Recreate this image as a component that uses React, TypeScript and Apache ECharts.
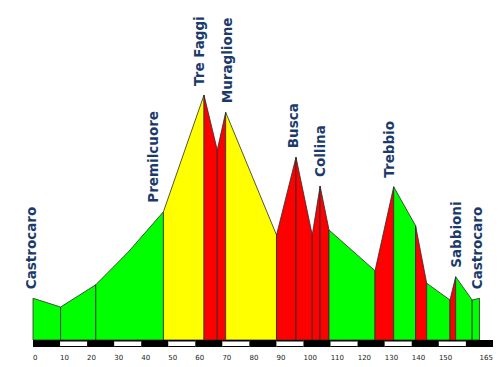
import React, { useEffect, useRef } from "react";
import * as echarts from "echarts";

// Route profile: distance (km) and elevation (m)
const kmPoints = [0, 10.2, 23.2, 35.2, 48.2, 63.2, 68.1, 71.2, 90.0, 97.2, 103.2, 106.1, 109.4, 126.4, 133.3, 141.4, 145.5, 154.1, 156.2, 162.3, 165];
const elevations = [167, 132, 221, 352, 513, 980, 760, 911, 420, 731, 420, 616, 440, 277, 613, 457, 227, 160, 253, 160, 167];

// Colored sections: start / end vertex index and gradient class
const sectionStart = [0, 1, 2, 4, 5, 6, 7, 8, 9, 10, 11, 12, 13, 14, 15, 16, 17, 18, 19];
const sectionEnd = [1, 2, 4, 5, 6, 7, 8, 9, 10, 11, 12, 13, 14, 15, 16, 17, 18, 19, 20];
const sectionClass = ["g", "g", "g", "y", "r", "r", "y", "r", "r", "r", "r", "g", "r", "g", "r", "g", "r", "g", "g"];

// Place names and the vertex they belong to
const placeNames = ["Castrocaro", "Premilcuore", "Tre Faggi", "Muraglione", "Busca", "Collina", "Trebbio", "Sabbioni", "Castrocaro"];
const placeVertex = [0, 4, 5, 7, 9, 11, 14, 18, 20];

// Kilometre band segments and tick labels
const bandStarts = [0, 10, 20, 30, 40, 50, 60, 70, 80, 90, 100, 110, 120, 130, 140, 150, 160];
const tickLabels = [0, 10, 20, 30, 40, 50, 60, 70, 80, 90, 100, 110, 120, 130, 140, 150, 165];

// layout-only nudges for the place labels (px)
const labelNudge = [-2, -10, -5, 1, -3, 0, -5, 0, -2];

const classColor: Record<string, string> = { g: "#00ff00", y: "#ffff00", r: "#ff0000" };

export default function App() {
  const ref = useRef<HTMLDivElement>(null);
  useEffect(() => {
    if (!ref.current) return;
    const chart = echarts.init(ref.current, null, { renderer: "svg" });
    const option: any = {
      animation: false,
      backgroundColor: "#ffffff",
      grid: { left: 33, right: 7, top: 90, bottom: 27 },
      xAxis: {
        type: "value",
        min: 0,
        max: 170,
        interval: 10,
        axisLine: { show: false },
        axisTick: { show: false },
        splitLine: { show: false },
        axisLabel: {
          customValues: tickLabels,
          align: "left",
          margin: 14,
          fontSize: 7,
          color: "#222",
          fontFamily: "DejaVu Sans",
          padding: [0, 0, 0, 0],
        },
      },
      yAxis: {
        type: "value",
        min: 0,
        max: 1000,
        show: false,
        splitLine: { show: false },
      },
      series: [
        {
          type: "custom",
          name: "band",
          data: bandStarts.map((s, i) => [s, s + 10, i % 2]),
          renderItem: (params: any, api: any) => {
            const a = api.coord([api.value(0), 0]);
            const b = api.coord([api.value(1), 0]);
            const isWhite = api.value(2) === 1;
            return {
              type: "group",
              children: [
                { type: "rect", shape: { x: a[0], y: a[1], width: b[0] - a[0], height: 7 }, style: { fill: "#000" } },
                isWhite
                  ? { type: "rect", shape: { x: a[0], y: a[1] + 1.5, width: b[0] - a[0], height: 4.5 }, style: { fill: "#fff" } }
                  : { type: "rect", shape: { x: 0, y: 0, width: 0, height: 0 }, style: { fill: "none" } },
              ],
            };
          },
          silent: true,
          z: 3,
        },
        {
          type: "custom",
          name: "profile",
          data: sectionStart.map((s, i) => [kmPoints[s], kmPoints[sectionEnd[i]], i]),
          renderItem: (params: any, api: any) => {
            const i = api.value(2);
            const s = sectionStart[i];
            const e = sectionEnd[i];
            const pts: number[][] = [];
            pts.push(api.coord([kmPoints[s], 0]));
            for (let k = s; k <= e; k++) pts.push(api.coord([kmPoints[k], elevations[k]]));
            pts.push(api.coord([kmPoints[e], 0]));
            return {
              type: "polygon",
              shape: { points: pts },
              style: { fill: classColor[sectionClass[i]], stroke: "#2b2b2b", lineWidth: 0.8 },
            };
          },
          silent: true,
          z: 2,
        },
        {
          type: "custom",
          name: "places",
          data: placeNames.map((n, i) => [kmPoints[placeVertex[i]], elevations[placeVertex[i]], i]),
          renderItem: (params: any, api: any) => {
            const p = api.coord([api.value(0), api.value(1)]);
            const i = api.value(2);
            return {
              type: "text",
              x: p[0] + labelNudge[i],
              y: p[1] - 9,
              rotation: Math.PI / 2,
              style: {
                text: placeNames[i],
                align: "left",
                verticalAlign: "middle",
                fill: "#1b3a6b",
                font: "bold 13.5px 'DejaVu Sans'",
              },
            };
          },
          silent: true,
          z: 4,
        },
      ],
    };
    chart.setOption(option);
    return () => chart.dispose();
  }, []);
  return <div ref={ref} style={{ position: "fixed", left: 0, top: 0, width: 500, height: 367 }} />;
}
